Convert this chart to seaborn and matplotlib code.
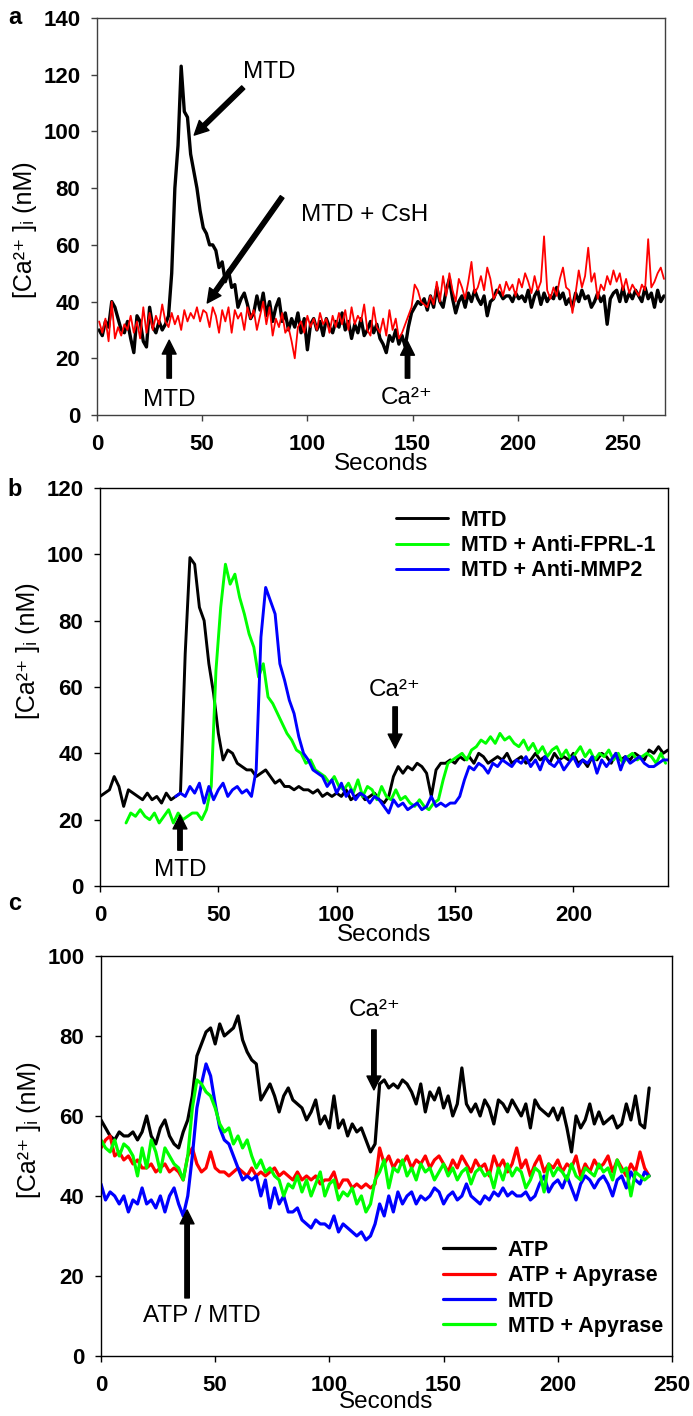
import numpy as np
import pandas as pd
import matplotlib
matplotlib.use("Agg")
import matplotlib.pyplot as plt
import seaborn as sns

# ---------------- data ----------------
# Panel a: 1.5 s sampling
t_a = np.arange(1, 270.5, 1.5)
a_mtd = [30, 28, 33, 31, 40, 38, 34, 30, 29, 33, 27, 22, 35, 33, 26, 24, 38, 31, 29, 33,
         30, 32, 35, 50, 80, 95, 123, 107, 105, 92, 86, 80, 72, 66, 64, 60, 60, 58, 52, 54,
         47, 51, 45, 46, 38, 41, 43, 39, 34, 36, 42, 37, 43, 35, 40, 33, 38, 41, 33, 36,
         30, 34, 31, 36, 29, 34, 23, 32, 34, 30, 33, 28, 34, 31, 29, 33, 31, 36, 30, 33,
         27, 32, 29, 34, 28, 30, 33, 29, 32, 27, 25, 22, 28, 26, 30, 25, 28, 24, 31, 36,
         38, 40, 39, 41, 37, 42, 38, 45, 40, 38, 44, 48, 41, 36, 40, 42, 38, 43, 40, 44,
         41, 39, 42, 35, 40, 41, 44, 43, 41, 42, 42, 40, 43, 41, 42, 40, 44, 38, 42, 44,
         39, 43, 40, 42, 41, 45, 41, 43, 39, 41, 38, 43, 40, 44, 41, 42, 38, 40, 43, 40,
         42, 32, 41, 43, 44, 40, 45, 40, 43, 41, 44, 42, 40, 45, 41, 43, 38, 44, 40, 42]
a_csh = [33, 29, 34, 26, 40, 27, 31, 28, 32, 30, 35, 29, 33, 27, 38, 29, 36, 30, 35, 32,
         39, 33, 31, 36, 32, 35, 30, 37, 33, 36, 34, 38, 33, 37, 36, 31, 38, 35, 29, 37,
         33, 38, 29, 37, 34, 36, 30, 38, 34, 37, 30, 35, 40, 32, 38, 28, 34, 31, 36, 29,
         31, 26, 20, 31, 33, 29, 35, 31, 34, 30, 36, 32, 34, 29, 35, 31, 36, 32, 37, 30,
         38, 32, 35, 33, 39, 30, 28, 38, 31, 29, 34, 28, 37, 30, 34, 27, 29, 32, 35, 38,
         46, 44, 40, 39, 38, 42, 39, 47, 40, 49, 42, 50, 44, 40, 48, 45, 41, 47, 54, 43,
         45, 49, 44, 52, 48, 41, 43, 46, 42, 47, 44, 46, 42, 48, 45, 50, 47, 43, 49, 44,
         47, 63, 44, 41, 45, 42, 48, 52, 45, 44, 36, 43, 51, 45, 49, 59, 47, 50, 41, 46,
         44, 49, 46, 51, 47, 50, 44, 48, 43, 46, 44, 42, 46, 44, 62, 45, 47, 50, 52, 48]

# Panel b: 2 s sampling
t_b_mtd = np.arange(0, 241, 2)
b_mtd = [27, 28, 29, 33, 30, 24, 29, 28, 27, 26, 28, 26, 27, 25, 28, 26, 27, 28, 70, 99,
         97, 84, 80, 67, 58, 46, 38, 41, 40, 37, 36, 35, 35, 33, 34, 35, 33, 31, 32, 30,
         30, 29, 30, 29, 29, 28, 29, 27, 28, 27, 28, 27, 29, 26, 27, 28, 26, 27, 28, 26,
         25, 27, 33, 36, 34, 36, 35, 37, 36, 34, 27, 35, 37, 37, 38, 37, 39, 38, 39, 37,
         40, 39, 37, 38, 39, 38, 40, 37, 38, 39, 37, 38, 40, 38, 39, 37, 40, 38, 39, 38,
         40, 37, 38, 36, 39, 38, 40, 39, 37, 40, 38, 39, 38, 40, 39, 38, 41, 40, 42, 40,
         41]
t_b_fprl = np.arange(11, 240, 2)
b_fprl = [19, 22, 21, 23, 21, 20, 22, 19, 21, 23, 19, 22, 20, 21, 22, 22, 20, 23, 30, 65,
          84, 97, 91, 94, 87, 82, 76, 72, 63, 67, 57, 55, 52, 49, 46, 44, 41, 40, 37, 38,
          35, 34, 33, 31, 33, 30, 29, 31, 28, 32, 27, 30, 29, 26, 30, 27, 26, 29, 26, 27,
          25, 24, 26, 24, 23, 25, 26, 32, 37, 38, 39, 40, 38, 41, 42, 44, 43, 45, 43, 46,
          44, 45, 43, 42, 44, 41, 43, 40, 42, 39, 41, 42, 39, 41, 38, 40, 42, 39, 41, 38,
          40, 39, 41, 38, 40, 37, 39, 40, 38, 39, 40, 39, 37, 40, 37]
t_b_mmp = np.arange(32, 241, 2)
b_mmp = [27, 28, 27, 30, 28, 31, 25, 30, 26, 29, 31, 27, 29, 30, 28, 29, 27, 35, 75, 90,
         86, 82, 67, 62, 56, 52, 45, 40, 38, 35, 34, 33, 30, 32, 28, 31, 27, 29, 26, 28,
         27, 25, 27, 26, 24, 22, 26, 24, 25, 23, 24, 25, 23, 24, 27, 24, 25, 24, 25, 25,
         27, 32, 36, 35, 37, 36, 34, 37, 36, 38, 37, 36, 38, 37, 39, 36, 38, 35, 39, 37,
         36, 38, 35, 37, 39, 36, 38, 37, 39, 34, 38, 36, 38, 40, 35, 39, 37, 38, 39, 37,
         36, 36, 37, 38, 38]

# Panel c: 2 s sampling
t_c = np.arange(0, 241, 2)
c_atp = [59, 57, 55, 54, 56, 55, 55, 56, 54, 56, 60, 55, 53, 57, 59, 55, 53, 52, 56, 59,
         65, 75, 78, 81, 82, 78, 83, 80, 81, 82, 85, 79, 76, 74, 73, 64, 66, 68, 65, 61,
         65, 67, 64, 63, 62, 59, 61, 64, 58, 60, 57, 65, 57, 59, 55, 58, 56, 57, 54, 51,
         53, 68, 69, 67, 68, 67, 69, 68, 66, 63, 68, 61, 66, 64, 67, 62, 65, 60, 63, 72,
         63, 61, 63, 60, 64, 62, 58, 64, 63, 61, 64, 62, 60, 63, 57, 64, 62, 61, 60, 62,
         59, 62, 57, 51, 60, 57, 59, 63, 58, 61, 58, 59, 60, 57, 58, 63, 59, 65, 58, 57,
         67]
c_atp_apy = [52, 54, 55, 50, 51, 49, 50, 48, 49, 47, 47, 48, 46, 47, 48, 46, 47, 46, 44, 50,
             52, 48, 46, 47, 51, 47, 46, 46, 45, 46, 47, 46, 45, 47, 45, 46, 45, 46, 47, 45,
             46, 45, 44, 46, 44, 45, 44, 45, 43, 44, 44, 46, 42, 44, 44, 42, 43, 42, 43, 42,
             43, 52, 48, 50, 47, 49, 48, 50, 47, 49, 48, 50, 47, 49, 50, 48, 46, 49, 47, 50,
             48, 46, 49, 47, 48, 45, 50, 47, 49, 46, 48, 52, 47, 49, 45, 48, 50, 46, 48, 47,
             49, 46, 48, 47, 50, 45, 48, 46, 49, 47, 48, 50, 46, 49, 47, 45, 48, 46, 51, 47,
             45]
c_mtd = [43, 39, 41, 40, 38, 40, 36, 39, 38, 42, 38, 39, 37, 40, 36, 40, 42, 38, 35, 40,
         50, 62, 68, 73, 70, 63, 57, 54, 53, 50, 47, 44, 45, 44, 45, 40, 44, 37, 42, 38,
         40, 36, 36, 37, 34, 33, 32, 34, 33, 33, 32, 35, 31, 33, 32, 31, 30, 31, 29, 30,
         33, 38, 35, 40, 36, 41, 38, 40, 41, 38, 40, 39, 40, 42, 41, 38, 40, 41, 39, 40,
         43, 40, 39, 38, 40, 39, 41, 40, 42, 40, 41, 40, 40, 41, 39, 40, 43, 45, 41, 43,
         44, 42, 45, 42, 39, 43, 45, 44, 42, 44, 45, 43, 40, 44, 45, 42, 46, 44, 43, 46,
         45]
c_mtd_apy = [54, 52, 51, 54, 50, 53, 52, 50, 45, 52, 47, 54, 51, 46, 52, 50, 48, 47, 44, 50,
             62, 69, 68, 66, 65, 62, 58, 56, 57, 53, 55, 52, 54, 50, 47, 49, 46, 47, 45, 44,
             40, 43, 42, 45, 41, 44, 40, 43, 46, 40, 43, 44, 39, 41, 40, 42, 38, 40, 36, 38,
             44, 46, 49, 42, 47, 46, 49, 45, 47, 44, 48, 46, 47, 44, 46, 48, 45, 47, 44, 46,
             47, 43, 46, 47, 45, 46, 42, 47, 44, 48, 45, 47, 46, 42, 44, 47, 46, 41, 48, 45,
             47, 46, 44, 48, 45, 44, 47, 46, 45, 48, 46, 47, 44, 49, 46, 47, 40, 46, 45, 44,
             45]

# ---------------- style ----------------
sns.set_theme(style="ticks", rc={"text.color": "black", "axes.labelcolor": "black",
                                  "xtick.color": "black", "ytick.color": "black",
                                  "axes.edgecolor": "black"})
plt.rcParams["font.family"] = ["Liberation Sans", "DejaVu Sans"]

YLABEL = "[Ca²⁺ ]ᵢ (nM)"
CA = "Ca²⁺"
TXT = 17.5


def long_frame(parts):
    frames = []
    for name, t, v in parts:
        frames.append(pd.DataFrame({"Seconds": t, "Ca": v, "series": name}))
    return pd.concat(frames, ignore_index=True)


def style_axes(ax, xlim, ylim, xticks, yticks, spine_color, ylab_y):
    ax.set_xlim(*xlim)
    ax.set_ylim(*ylim)
    ax.set_xticks(xticks)
    ax.set_yticks(yticks)
    for s in ax.spines.values():
        s.set_visible(True)
        s.set_color(spine_color)
        s.set_linewidth(1.0)
    ax.tick_params(axis="both", direction="out", length=4, width=1.0,
                   color=spine_color, labelsize=16)
    ax.tick_params(axis="x", pad=10)
    ax.tick_params(axis="y", pad=8)
    for lab in ax.get_xticklabels() + ax.get_yticklabels():
        lab.set_fontweight("bold")
    ax.set_xlabel("Seconds", fontsize=17.5, labelpad=-2)
    ax.set_ylabel(YLABEL, fontsize=18)
    ax.yaxis.set_label_coords(-0.105, ylab_y)
    ax.grid(False)


def arrow(ax, head, tail):
    ax.annotate("", xy=head, xytext=tail,
                arrowprops=dict(facecolor="black", edgecolor="black",
                                width=3.2, headwidth=10, headlength=10, shrink=0))


fig = plt.figure(figsize=(6.93, 14.16), dpi=100)
ax_a = fig.add_axes([0.1400, 0.7069, 0.8196, 0.2804])
ax_b = fig.add_axes([0.1443, 0.3743, 0.8196, 0.2811])
ax_c = fig.add_axes([0.1457, 0.0424, 0.8240, 0.2825])

# ---------------- panel a ----------------
df_a = long_frame([("MTD", t_a, a_mtd), ("MTD + CsH", t_a, a_csh)])
sns.lineplot(data=df_a[df_a.series == "MTD"], x="Seconds", y="Ca", color="black",
             linewidth=2.4, estimator=None, ax=ax_a, legend=False)
sns.lineplot(data=df_a[df_a.series == "MTD + CsH"], x="Seconds", y="Ca", color="#ff0000",
             linewidth=1.3, estimator=None, ax=ax_a, legend=False)
style_axes(ax_a, (0, 270), (0, 140), range(0, 251, 50), range(0, 141, 20), "#404040", 0.466)
ax_a.text(82, 121, "MTD", fontsize=TXT, ha="center", va="center")
arrow(ax_a, (46.2, 98.7), (69.5, 115.5))
ax_a.text(127, 70.5, "MTD + CsH", fontsize=TXT, ha="center", va="center")
arrow(ax_a, (52.4, 39.5), (88, 76.9))
arrow(ax_a, (34.3, 26.4), (34.3, 13))
ax_a.text(34.3, 5.3, "MTD", fontsize=TXT, ha="center", va="center")
arrow(ax_a, (147.6, 26.0), (147.6, 13))
ax_a.text(147, 6.0, CA, fontsize=TXT, ha="center", va="center")

# ---------------- panel b ----------------
b_names = ["MTD", "MTD + Anti-FPRL-1", "MTD + Anti-MMP2"]
b_cols = ["black", "#00ff00", "#0000ff"]
df_b = long_frame([(b_names[0], t_b_mtd, b_mtd), (b_names[1], t_b_fprl, b_fprl),
                   (b_names[2], t_b_mmp, b_mmp)])
sns.lineplot(data=df_b, x="Seconds", y="Ca", hue="series", hue_order=b_names,
             palette=b_cols, linewidth=2.1, estimator=None, ax=ax_b, legend=False)
style_axes(ax_b, (0, 240), (0, 120), range(0, 201, 50), range(0, 121, 20), "black", 0.590)
ax_b.text(124.7, 59, CA, fontsize=TXT, ha="center", va="center")
arrow(ax_b, (124.7, 41.6), (124.7, 54))
arrow(ax_b, (33.8, 21.4), (33.8, 10.8))
ax_b.text(33.8, 4.8, "MTD", fontsize=TXT, ha="center", va="center")
hb = ax_b.get_lines()[:3]
ax_b.legend(hb, b_names, loc="upper left", bbox_to_anchor=(0.521, 0.945),
            frameon=False, handlelength=2.4, handletextpad=0.6, labelspacing=0.2,
            borderpad=0, borderaxespad=0, prop=dict(weight="bold", size=15.5))

# ---------------- panel c ----------------
c_names = ["ATP", "ATP + Apyrase", "MTD", "MTD + Apyrase"]
c_cols = ["black", "#ff0000", "#0000ff", "#00ff00"]
df_c = long_frame([(c_names[0], t_c, c_atp), (c_names[1], t_c, c_atp_apy),
                   (c_names[2], t_c, c_mtd), (c_names[3], t_c, c_mtd_apy)])
sns.lineplot(data=df_c, x="Seconds", y="Ca", hue="series", hue_order=c_names,
             palette=c_cols, linewidth=2.3, estimator=None, ax=ax_c, legend=False)
style_axes(ax_c, (0, 250), (0, 100), range(0, 251, 50), range(0, 101, 20), "black", 0.565)
ax_c.set_xlabel("Seconds", fontsize=17.5, labelpad=-4)
ax_c.text(120, 86.5, CA, fontsize=TXT, ha="center", va="center")
arrow(ax_c, (119.5, 66.5), (119.5, 81.5))
arrow(ax_c, (37.7, 36.5), (37.7, 14.5))
ax_c.text(44, 10, "ATP / MTD", fontsize=TXT, ha="center", va="center")
hc = ax_c.get_lines()[:4]
ax_c.legend(hc, c_names, loc="upper left", bbox_to_anchor=(0.599, 0.29),
            frameon=False, handlelength=2.4, handletextpad=0.6, labelspacing=0.2,
            borderpad=0, borderaxespad=0, prop=dict(weight="bold", size=15.5))

# panel letters
for letter, ypix in (("a", 18), ("b", 490), ("c", 903)):
    fig.text(15 / 693, 1 - ypix / 1416, letter, fontsize=17, fontweight="bold",
             ha="center", va="center")

fig.savefig("out.png", dpi=100)
